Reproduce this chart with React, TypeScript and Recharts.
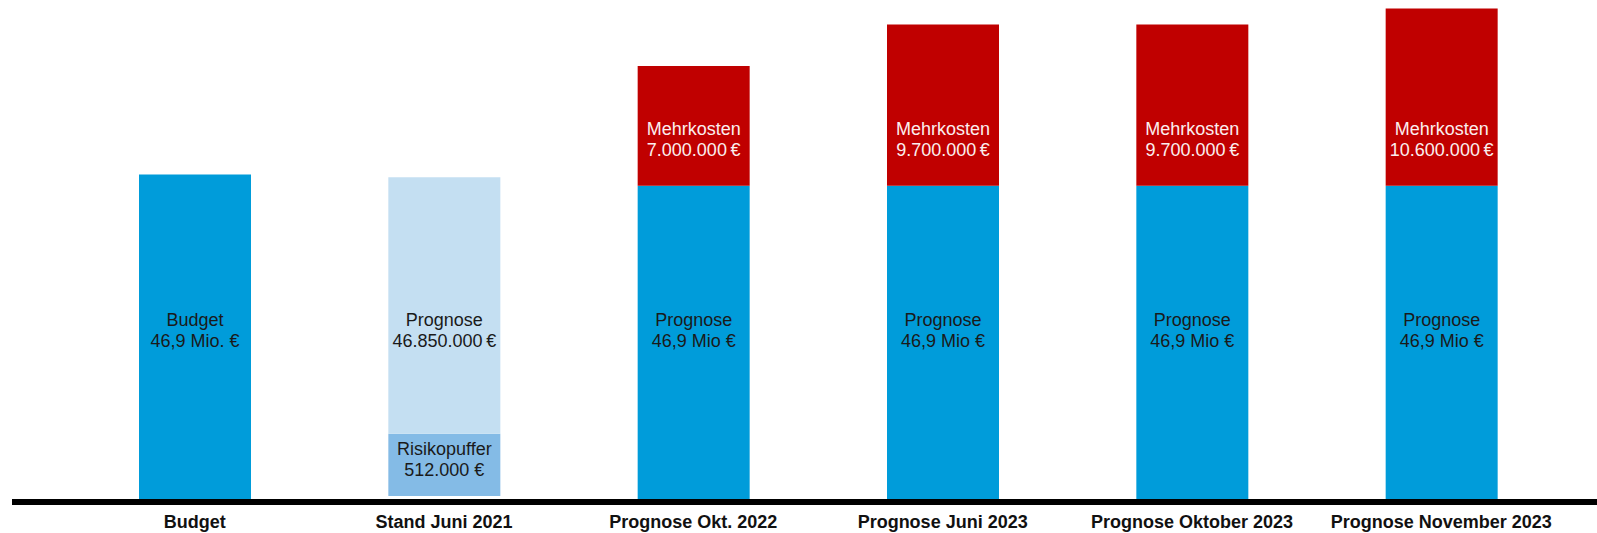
import { BarChart, Bar, XAxis, YAxis, LabelList } from 'recharts';

// Kategorien der X-Achse
const kategorien = [
  'Budget',
  'Stand Juni 2021',
  'Prognose Okt. 2022',
  'Prognose Juni 2023',
  'Prognose Oktober 2023',
  'Prognose November 2023',
];

// Balkenhöhen (Bild ist nicht maßstäblich)
const basis = [46.9, 0, 45.3, 45.3, 45.3, 45.3];
const luecke = [0, 0.43, 0, 0, 0, 0];
const risikopuffer = [0, 9.0, 0, 0, 0, 0];
const prognoseHell = [0, 37.1, 0, 0, 0, 0];
const mehrkosten = [0, 0, 17.3, 23.3, 23.3, 25.6];

// Beschriftungen in den Balken
const basisText = [
  ['Budget', '46,9 Mio. €'],
  null,
  ['Prognose', '46,9 Mio €'],
  ['Prognose', '46,9 Mio €'],
  ['Prognose', '46,9 Mio €'],
  ['Prognose', '46,9 Mio €'],
];
const risikoText = [null, ['Risikopuffer', '512.000 €'], null, null, null, null];
const hellText = [null, ['Prognose', '46.850.000\u2009€'], null, null, null, null];
const mehrText = [
  null,
  null,
  ['Mehrkosten', '7.000.000\u2009€'],
  ['Mehrkosten', '9.700.000\u2009€'],
  ['Mehrkosten', '9.700.000\u2009€'],
  ['Mehrkosten', '10.600.000\u2009€'],
];

const data = kategorien.map((name, i) => ({
  name,
  basis: basis[i],
  luecke: luecke[i],
  risikopuffer: risikopuffer[i],
  prognoseHell: prognoseHell[i],
  mehrkosten: mehrkosten[i],
}));

const FONT = '"Liberation Sans", Arial, sans-serif';

// label relative to the bottom edge of the segment; value = category name
function makeLabel(texts: (string[] | null)[], fromBottom: number, color: string) {
  return (props: any) => {
    const { x, y, width, height, value } = props;
    const i = kategorien.indexOf(String(value));
    const t = i >= 0 ? texts[i] : null;
    if (!t || !height) return null;
    const cx = Number(x) + Number(width) / 2;
    const bottom = Number(y) + Number(height);
    return (
      <text x={cx} textAnchor="middle" fontFamily={FONT} fontSize={18} fill={color}>
        <tspan x={cx} y={bottom - fromBottom}>{t[0]}</tspan>
        <tspan x={cx} y={bottom - fromBottom + 21}>{t[1]}</tspan>
      </text>
    );
  };
}

const AchsenTick = (props: any) => {
  const { x, y, payload } = props;
  return (
    <text x={x} y={Number(y) + 29} textAnchor="middle" fontFamily={FONT} fontSize={18} fontWeight="bold" fill="#111">
      {payload.value}
    </text>
  );
};

export default function App() {
  return (
    <div style={{ position: 'absolute', left: 0, top: 0 }}>
      <BarChart
        width={1597}
        height={533}
        data={data}
        margin={{ top: 1, right: 0, bottom: 0, left: 12 }}
        barSize={112}
      >
        <YAxis hide domain={[0, 72]} />
        <Bar dataKey="basis" stackId="a" fill="#009cda" isAnimationActive={false}>
          <LabelList dataKey="name" content={makeLabel(basisText, 173, '#1a1a1a')} />
        </Bar>
        <Bar dataKey="luecke" stackId="a" fill="transparent" isAnimationActive={false} />
        <Bar dataKey="risikopuffer" stackId="a" fill="#84bbe6" isAnimationActive={false}>
          <LabelList dataKey="name" content={makeLabel(risikoText, 41, '#1a1a1a')} />
        </Bar>
        <Bar dataKey="prognoseHell" stackId="a" fill="#c4dff2" isAnimationActive={false}>
          <LabelList dataKey="name" content={makeLabel(hellText, 108, '#1a1a1a')} />
        </Bar>
        <Bar dataKey="mehrkosten" stackId="a" fill="#c00000" isAnimationActive={false}>
          <LabelList dataKey="name" content={makeLabel(mehrText, 51, '#fbeeee')} />
        </Bar>
        <XAxis
          dataKey="name"
          height={34}
          padding={{ left: 58, right: 31 }}
          axisLine={{ stroke: '#000', strokeWidth: 6, transform: 'translate(0,3)' } as any}
          tickLine={false}
          tickSize={0}
          tickMargin={0}
          interval={0}
          tick={<AchsenTick />}
        />
      </BarChart>
    </div>
  );
}
